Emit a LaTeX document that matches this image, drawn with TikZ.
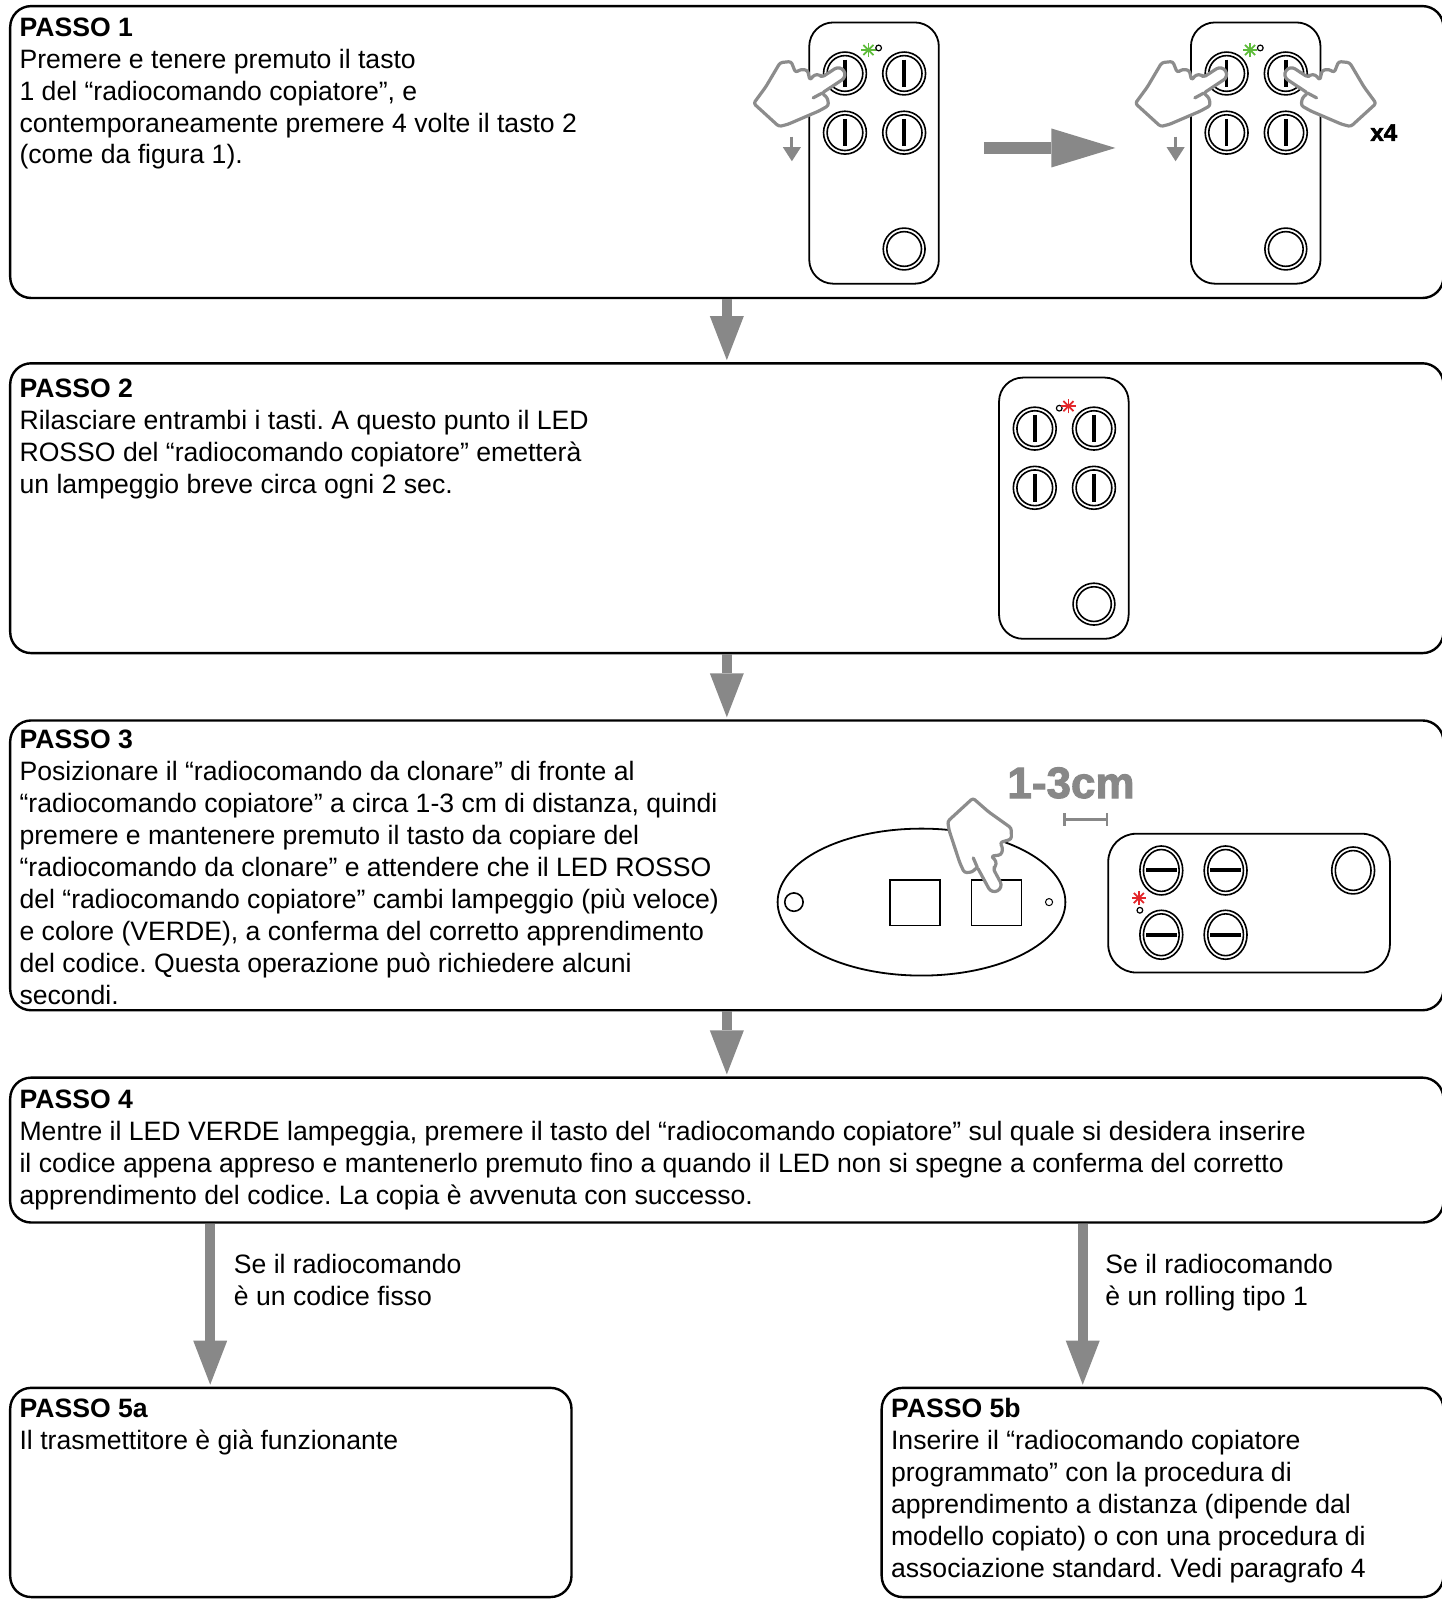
\documentclass[tikz,border=0pt]{standalone}
\usepackage{fontspec}
\setmainfont{Liberation Sans}
\newfontfamily\heavyfont[FakeBold=2.2]{Liberation Sans Bold}
\usetikzlibrary{arrows.meta,calc}
\definecolor{arrgray}{HTML}{888888}
\definecolor{handgray}{HTML}{8C8C8C}
\definecolor{ledgreen}{HTML}{5DBB3A}
\definecolor{ledred}{HTML}{E3262A}
\tikzset{
  box/.style={draw=black, line width=2.4pt, rounded corners=21pt, inner sep=0pt},
  txt/.style={anchor=base west, inner sep=0pt, align=left, font=\fontsize{26.6}{31.95}\selectfont\frenchspacing},
  flow/.style={draw=arrgray, line width=10pt, -{Triangle[length=44pt,width=34pt,line width=0pt]}, shorten >=2pt},
  handline/.style={draw=handgray, line width=3.2pt, fill=white, line join=round, line cap=round},
  pics/led/.style={code={\foreach \a in {0,45,90,135}{\draw[line width=1.7pt,#1] (\a:7) -- (\a+180:7);}}},
  pics/vbtn/.style={code={
    \draw[line width=1.6pt] (0,0) circle[radius=21] (0,0) circle[radius=17.5];
    \draw[line width=3.6pt] (0,-13.5) -- (0,13.5);}},
  pics/hbtn/.style={code={
    \draw[line width=1.6pt] (0,0) ellipse[x radius=21,y radius=24] (0,0) ellipse[x radius=17.5,y radius=20.5];
    \draw[line width=4pt] (-15,0) -- (15,0);}},
  pics/vremote/.style={code={
    \draw[line width=1.8pt, rounded corners=24pt] (0,0) rectangle (127,256);
    \pic at (35,50) {vbtn}; \pic at (93,50) {vbtn};
    \pic at (35,108) {vbtn}; \pic at (93,108) {vbtn};
    \draw[line width=1.6pt] (93,222) circle[radius=20.5] (93,222) circle[radius=17];}},
  pics/hand/.style={code={
    \draw[handline] (-19,5.2) -- (-7.5,-2.3) arc[start angle=-123,end angle=57,radius=6]
      [rounded corners=2.5pt] -- (-19,19.7) -- (-14,24) -- (-13,31) -- (-22,36) -- (-50,48)
      -- (-58,50) -- (-81,29) -- (-70,14) -- (-57,-8) -- (-47,-9) -- (-43,1) -- (-38,-2)
      -- (-32,-1) -- (-30,8) -- (-26,3) -- (-21,3) -- cycle;
    \draw[handline, fill=none] (-19,19.7) -- (-27,24);}},
  smallarrow/.style={draw=arrgray, line width=3pt, -{Triangle[length=14pt,width=18pt,line width=0pt]}}
}
\begin{document}
\begin{tikzpicture}[x=1.0205pt,y=-1.0205pt]
\useasboundingbox (0,0) rectangle (1413,1567.9);
\clip (0,0) rectangle (1413,1567.9);

% boxes
\node[box, minimum width=1433.3pt, minimum height=291.9pt] (b1) at (712.25,149) {};
\node[box, minimum width=1433.3pt, minimum height=289.8pt] (b2) at (712.25,498) {};
\node[box, minimum width=1433.3pt, minimum height=289.8pt] (b3) at (712.25,848) {};
\node[box, minimum width=1433.3pt, minimum height=144.9pt] (b4) at (712.25,1127) {};
\node[box, minimum width=561.3pt, minimum height=209.2pt] (b5a) at (285,1462.5) {};
\node[box, minimum width=561.8pt, minimum height=209.2pt] (b5b) at (1139.25,1462.5) {};

% connectors
\coordinate (ca) at (206,0);
\coordinate (cb) at (1061,0);
\draw[flow] (b1.south) -- (b2.north);
\draw[flow] (b2.south) -- (b3.north);
\draw[flow] (b3.south) -- (b4.north);
\draw[flow] (b4.south -| ca) -- (b5a.north -| ca);
\draw[flow] (b4.south -| cb) -- (b5b.north -| cb);

% texts (anchor on the baseline of the last line)
\node[txt] (t1) at (19,160.7) {\textbf{PASSO 1}\\Premere e tenere premuto il tasto\\1 del “radiocomando copiatore”, e\\contemporaneamente premere 4 volte il tasto 2\\(come da figura 1).};
\node[txt] (t2) at (19,483.9) {\textbf{PASSO 2}\\Rilasciare entrambi i tasti. A questo punto il LED\\ROSSO del “radiocomando copiatore” emetterà\\un lampeggio breve circa ogni 2 sec.};
\node[txt] (t3) at (19,984.4) {\textbf{PASSO 3}\\Posizionare il “radiocomando da clonare” di fronte al\\“radiocomando copiatore” a circa 1-3 cm di distanza, quindi\\premere e mantenere premuto il tasto da copiare del\\“radiocomando da clonare” e attendere che il LED ROSSO\\del “radiocomando copiatore” cambi lampeggio (più veloce)\\e colore (VERDE), a conferma del corretto apprendimento\\del codice. Questa operazione può richiedere alcuni\\secondi.};
\node[txt] (t4) at (19,1179.9) {\textbf{PASSO 4}\\Mentre il LED VERDE lampeggia, premere il tasto del “radiocomando copiatore” sul quale si desidera inserire\\il codice appena appreso e mantenerlo premuto fino a quando il LED non si spegne a conferma del corretto\\apprendimento del codice. La copia è avvenuta con successo.};
\node[txt] (t5a) at (19,1420.3) {\textbf{PASSO 5a}\\Il trasmettitore è già funzionante};
\node[txt] (t5b) at (873,1545.5) {\textbf{PASSO 5b}\\Inserire il “radiocomando copiatore\\programmato” con la procedura di\\apprendimento a distanza (dipende dal\\modello copiato) o con una procedura di\\associazione standard. Vedi paragrafo 4};
\node[txt] (la) at (229,1279.3) {Se il radiocomando\\è un codice fisso};
\node[txt] (lb) at (1083,1279.3) {Se il radiocomando\\è un rolling tipo 1};

% PASSO 1 illustration
\pic at (793,22) {vremote};
\pic at (851,49) {led=ledgreen};
\draw[line width=1.2pt] (861,47) circle[radius=2.8];
\pic[scale=1.08] at (826,70) {hand};
\draw[smallarrow] (776,134) -- (776,158);

\draw[draw=arrgray, line width=12pt, -{Triangle[length=64pt,width=39pt,line width=0pt]}] (964,145) -- (1093,145);

\pic at (1167,22) {vremote};
\pic at (1225,49) {led=ledgreen};
\draw[line width=1.2pt] (1235,47) circle[radius=2.8];
\pic[scale=1.08] at (1200,70) {hand};
\pic[xscale=-1.08, yscale=1.08] at (1261,70) {hand};
\draw[smallarrow] (1152,134) -- (1152,158);
\node[font=\fontsize{24}{24}\selectfont\heavyfont, inner sep=0pt] (x4) at (1356,130) {x4};

% PASSO 2 illustration
\pic at (979,370) {vremote};
\draw[line width=1.2pt] (1038,400) circle[radius=2.8];
\pic at (1047,398) {led=ledred};

% PASSO 3 illustration
\draw[line width=1.8pt] (903,884) ellipse[x radius=141,y radius=72];
\draw[line width=1.6pt] (778,884) circle[radius=9];
\draw[line width=1pt] (1028,884) circle[radius=3.5];
\draw[line width=1.8pt] (872,862) rectangle (921,907);
\draw[line width=1.8pt] (952,862) rectangle (1001,907);
\pic[rotate=-95, scale=1.08] at (977,872) {hand};
\node[font=\fontsize{44}{44}\selectfont\heavyfont, text=arrgray, inner sep=0pt, anchor=base west] (cm) at (987,782) {1-3cm};
\draw[draw=arrgray, line width=2.5pt] (1043,797) -- (1043,809) (1043,803) -- (1085,803) (1085,797) -- (1085,809);
\draw[line width=1.8pt, rounded corners=28pt] (1086,817) rectangle (1362,953);
\pic at (1138,853) {hbtn}; \pic at (1201,853) {hbtn};
\pic at (1138,916) {hbtn}; \pic at (1201,916) {hbtn};
\draw[line width=1.6pt] (1326,853) ellipse[x radius=21,y radius=23] (1326,853) ellipse[x radius=17.5,y radius=19.5];
\pic at (1116,880) {led=ledred};
\draw[line width=1.2pt] (1117,892) circle[radius=2.8];
\end{tikzpicture}
\end{document}
